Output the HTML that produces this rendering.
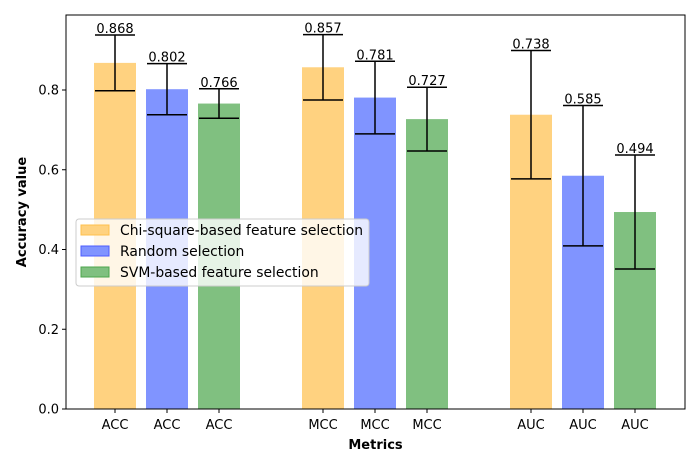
<!DOCTYPE html>
<html><head><meta charset="utf-8"><style>
body{margin:0;background:#fff;font-family:"Liberation Sans","DejaVu Sans",sans-serif}
svg text{font-family:"DejaVu Sans","Liberation Sans",sans-serif}
</style></head><body>
<svg id="chart" width="700" height="467" viewBox="0 0 700 467">
<g id="plot"></g>
</svg>
<script>
const categories=["ACC","ACC","ACC","MCC","MCC","MCC","AUC","AUC","AUC"];
const values=[0.868,0.802,0.766,0.857,0.781,0.727,0.738,0.585,0.494];
const errors=[0.07,0.064,0.037,0.082,0.091,0.08,0.161,0.176,0.143];
const seriesIdx=[0,1,2,0,1,2,0,1,2];
const slots=[0,1,2,4,5,6,8,9,10];
const yTicks=[0,0.2,0.4,0.6,0.8];
const seriesNames=["Chi-square-based feature selection","Random selection","SVM-based feature selection"];
const colors=["#ffd280","#8094ff","#80c080"];
const edges=["#ffc04d","#4d5cff","#4da64d"];
const NS="http://www.w3.org/2000/svg";
const g=document.getElementById('plot');
const L=66,R=685,T=15,B=409;
const y=v=>B-v*398.75;
const x=s=>115+s*52;
function el(t,a,txt){const e=document.createElementNS(NS,t);for(const k in a)e.setAttribute(k,a[k]);if(txt!=null)e.textContent=txt;g.appendChild(e);return e;}
values.forEach((v,i)=>{
 const cx=x(slots[i]);
 const b=el('rect',{x:cx-21,y:y(v),width:42,height:B-y(v),fill:colors[seriesIdx[i]]});
 
 
 const lo=v-errors[i],hi=v+errors[i];
 const e=el('path',{d:`M${cx},${y(lo)}V${y(hi)}M${cx-20},${y(lo)}H${cx+20}M${cx-20},${y(hi)}H${cx+20}`,stroke:'#000','stroke-width':1.5,fill:'none'});
 
 
 const t=el('text',{x:cx,y:y(hi)-2,'text-anchor':'middle','font-size':13},v.toFixed(3));
 
 
 const xl=el('text',{x:cx,y:429,'text-anchor':'middle','font-size':13},categories[i]);
 
 
 el('line',{x1:cx,x2:cx,y1:B,y2:B+4,stroke:'#000'});
});
yTicks.forEach(v=>{
 el('line',{x1:L-4,x2:L,y1:y(v),y2:y(v),stroke:'#000'});
 const t=el('text',{x:L-7,y:y(v)+4.5,'text-anchor':'end','font-size':13},v.toFixed(1));
 
 
});
const fr=el('rect',{x:L,y:T,width:R-L,height:B-T,fill:'none',stroke:'#000','stroke-width':1});


const xt=el('text',{x:(L+R)/2,y:449,'text-anchor':'middle','font-size':13,'font-weight':'bold'},'Metrics');


const yt=el('text',{x:0,y:0,'text-anchor':'middle','font-size':13,'font-weight':'bold',transform:`translate(26,${(T+B)/2}) rotate(-90)`},'Accuracy value');


const lg=el('rect',{x:76,y:219,width:293,height:67,rx:3,fill:'rgba(255,255,255,0.8)',stroke:'#ccc'});


seriesNames.forEach((n,i)=>{
 const yy=230+i*21;
 el('rect',{x:81,y:yy-5,width:28,height:10,fill:colors[i],stroke:edges[i]});
 const t=el('text',{x:120,y:yy+5,'font-size':13.9},n);
 
 
});
</script>
</body></html>
